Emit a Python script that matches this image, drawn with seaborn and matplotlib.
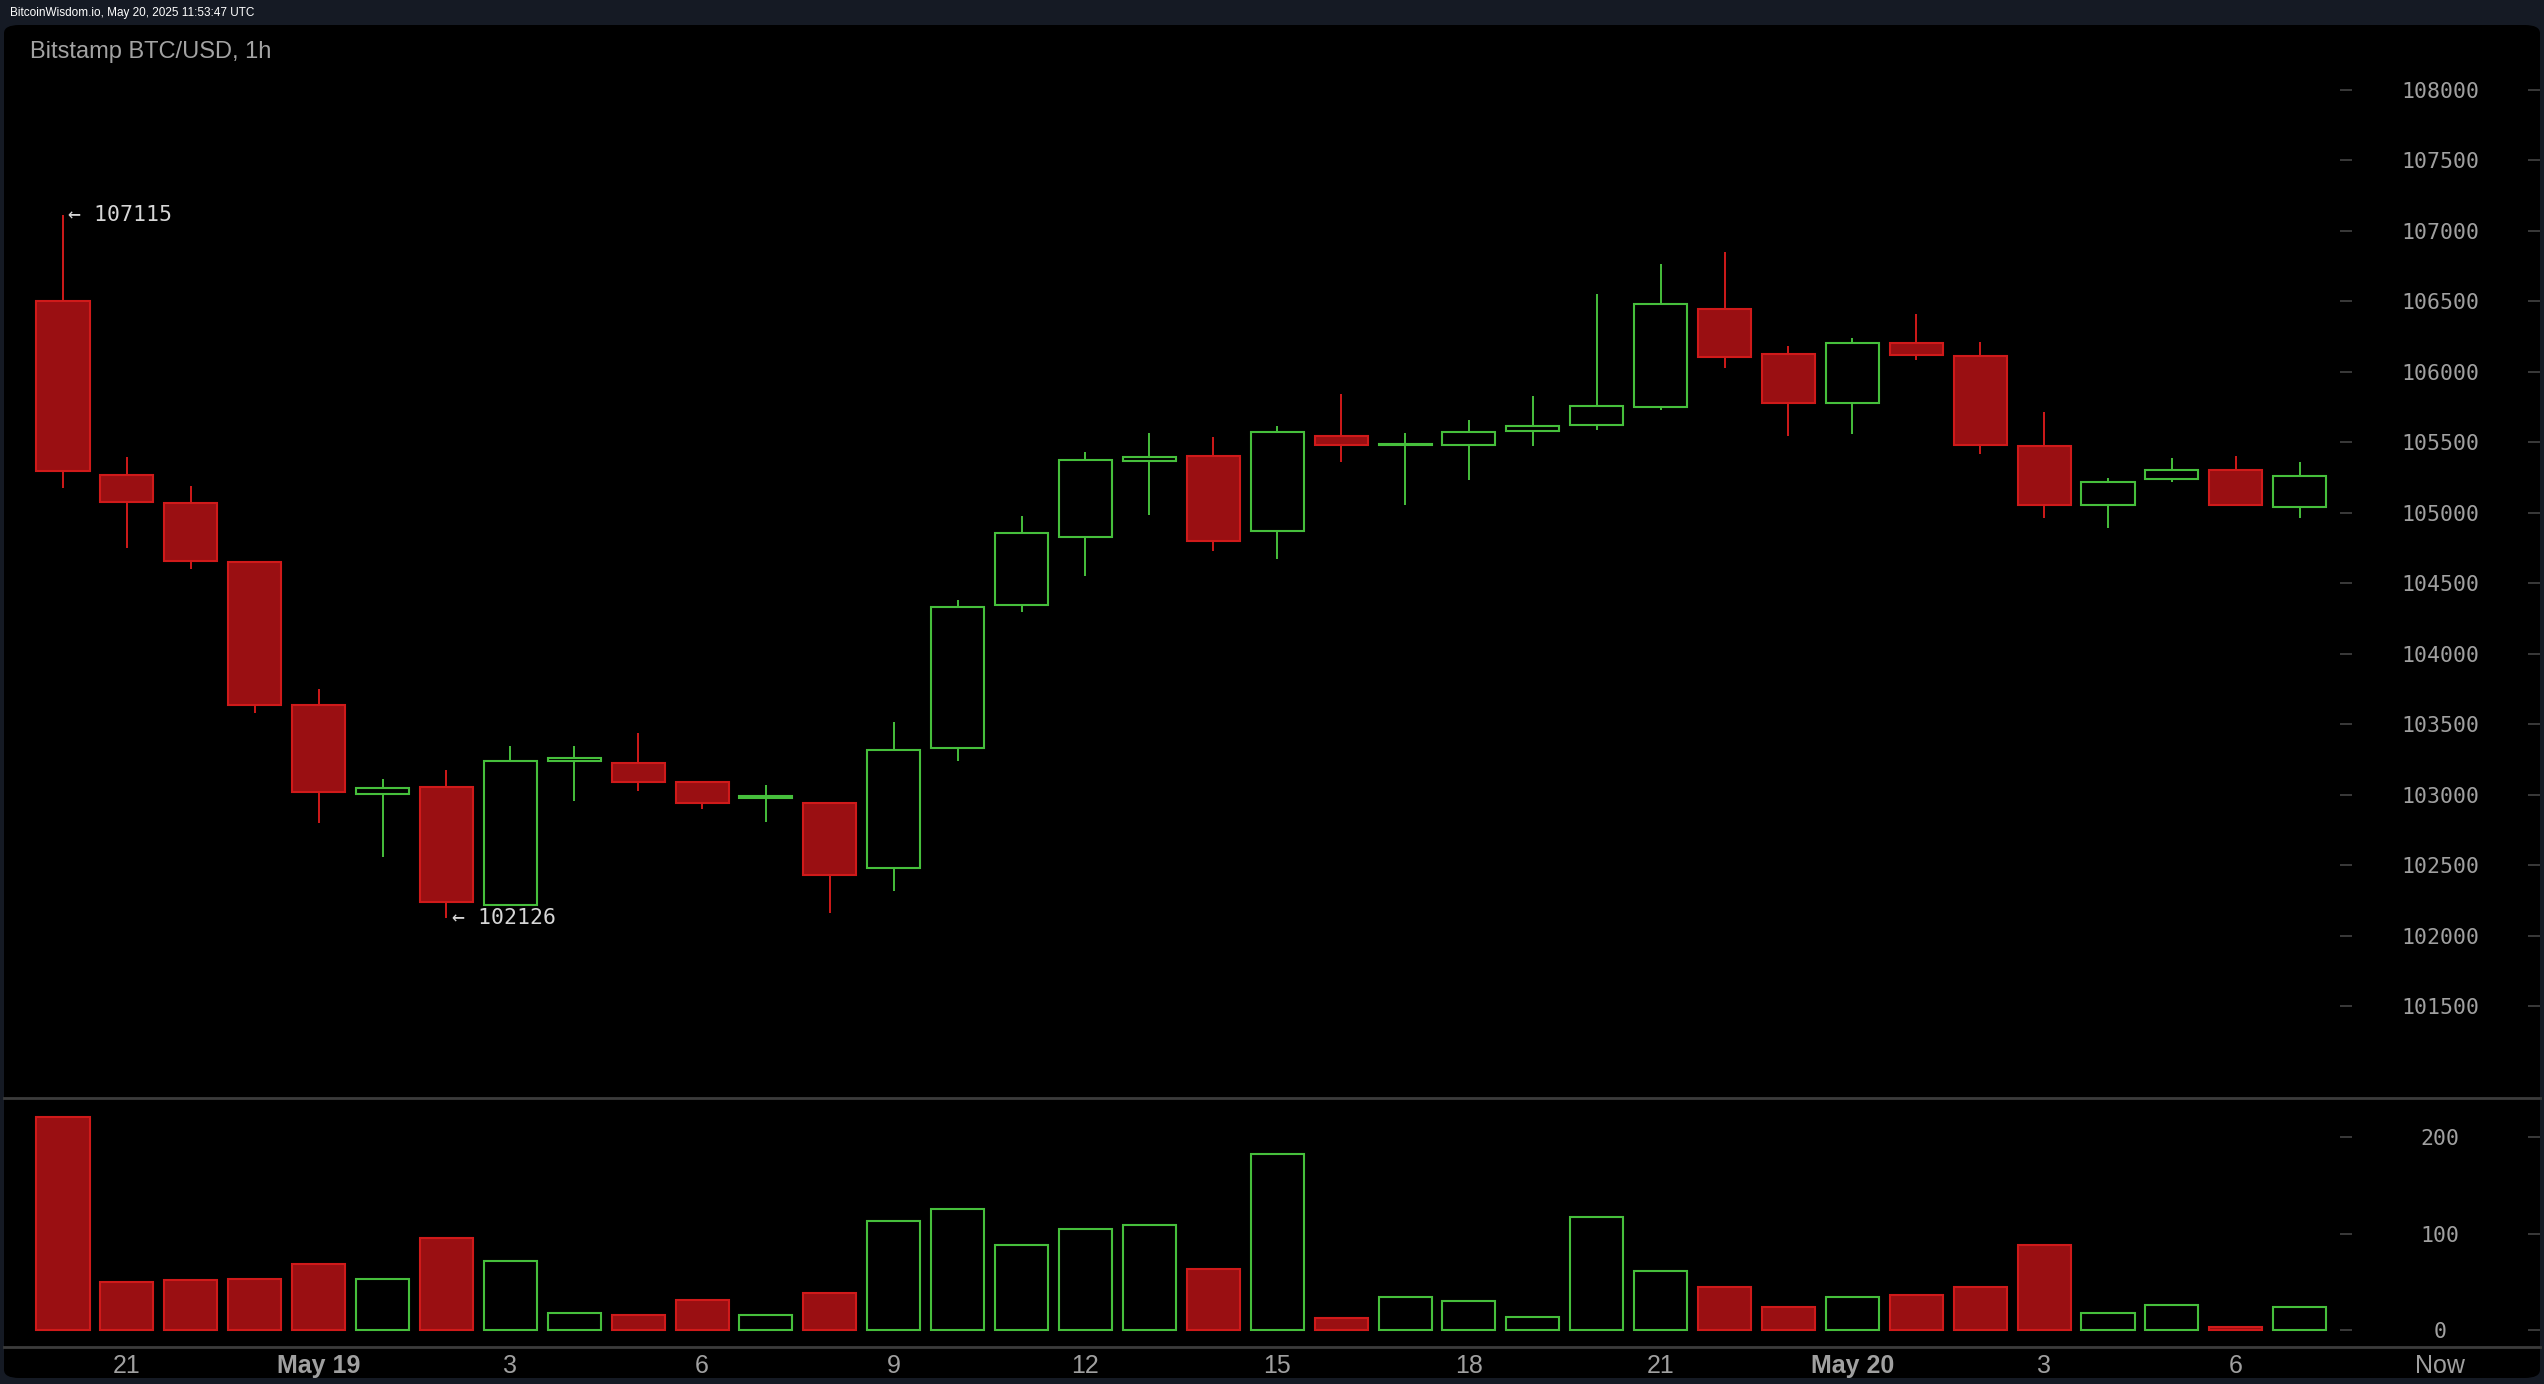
import numpy as np
import pandas as pd
import matplotlib
matplotlib.use("Agg")
import matplotlib.pyplot as plt
from matplotlib.patches import FancyBboxPatch
import seaborn as sns

# ================= DATA =================
# Bitstamp BTC/USD hourly candles, May 18 20:00 -> May 20 07:00
opens = [106500, 105270, 105070, 104650, 103640, 103005, 103060, 102220, 103240, 103230,
         103090, 102980, 102940, 102480, 103330, 104350, 104832, 105370, 105406, 104874,
         105546, 105484, 105482, 105581, 105624, 105753, 106450, 106125, 105782, 106209,
         106113, 105472, 105059, 105241, 105302, 105044]
highs = [107115, 105400, 105190, 104650, 103750, 103110, 103180, 103350, 103350, 103440,
         103090, 103070, 102950, 103520, 104385, 104982, 105435, 105564, 105536, 105620,
         105843, 105564, 105661, 105831, 106554, 106767, 106852, 106185, 106243, 106412,
         106214, 105717, 105250, 105392, 105406, 105364]
lows = [105175, 104754, 104600, 103580, 102800, 102560, 102126, 102210, 102955, 103030,
        102900, 102810, 102160, 102316, 103242, 104300, 104551, 104983, 104728, 104673,
        105364, 105054, 105236, 105477, 105590, 105732, 106030, 105548, 105562, 106086,
        105420, 104966, 104896, 105222, 105056, 104966]
closes = [105300, 105075, 104660, 103640, 103020, 103050, 102240, 103240, 103260, 103090,
          102940, 102995, 102430, 103320, 104330, 104855, 105378, 105400, 104800, 105571,
          105484, 105490, 105574, 105614, 105756, 106479, 106108, 105780, 106209, 106120,
          105482, 105056, 105217, 105302, 105056, 105260]
volumes = [221, 50, 52, 53, 68, 53, 95, 72, 18, 16, 31, 16, 38, 113, 125, 88, 105, 109,
           63, 182, 12, 34, 30, 14, 117, 61, 45, 24, 34, 36.5, 45, 88, 18, 26, 3.4, 24]

tick_idx = [1, 4, 7, 10, 13, 16, 19, 22, 25, 28, 31, 34]
tick_labels = ['21', 'May 19', '3', '6', '9', '12', '15', '18', '21', 'May 20', '3', '6']
price_ticks = [101500, 102000, 102500, 103000, 103500, 104000, 104500, 105000,
               105500, 106000, 106500, 107000, 107500, 108000]
vol_ticks = [0, 100, 200]

# ================= STYLE =================
W, H = 2544, 1384
BG = '#151a24'
RED_FILL = '#9a0f12'
RED_EDGE = '#d01a1a'
GREEN = '#46bf3c'
GRID = '#3c3c3c'
LABEL = '#a0a0a0'
NOW_POS = 37.2

sns.set_theme(style='dark')
plt.rcParams['font.family'] = ['Liberation Sans', 'DejaVu Sans']

fig = plt.figure(figsize=(W / 100, H / 100), dpi=100, facecolor=BG)
panel = FancyBboxPatch((4 / W, 1 - 1378 / H), 2536 / W, 1353 / H,
                       boxstyle='round,pad=0,rounding_size=0.006',
                       transform=fig.transFigure, facecolor='black',
                       edgecolor='none', zorder=0)
fig.add_artist(panel)

axp = fig.add_axes([4 / W, 1 - 1098 / H, 2536 / W, (1098 - 25) / H])
axv = fig.add_axes([4 / W, 1 - 1347 / H, 2536 / W, (1347 - 1098) / H], sharex=axp)
for ax in (axp, axv):
    ax.set_facecolor('none')
    ax.grid(False)
    for s in ('top', 'left', 'right'):
        ax.spines[s].set_visible(False)
    ax.spines['bottom'].set_color(GRID)
    ax.spines['bottom'].set_linewidth(2)

# ================= CANDLES =================
o = np.array(opens, dtype=float)
c = np.array(closes, dtype=float)
hi = np.array(highs, dtype=float)
lo = np.array(lows, dtype=float)
idx = np.arange(len(o))
up = c >= o
body_lo = np.minimum(o, c)
body_h = np.abs(c - o)

axp.vlines(idx[up], lo[up], hi[up], color=GREEN, lw=1.4, zorder=1)
axp.vlines(idx[~up], lo[~up], hi[~up], color=RED_EDGE, lw=1.4, zorder=1)
axp.bar(idx[up], body_h[up], bottom=body_lo[up], width=0.83, facecolor='black',
        edgecolor=GREEN, linewidth=1.5, zorder=2)
axp.bar(idx[~up], body_h[~up], bottom=body_lo[~up], width=0.83, facecolor=RED_FILL,
        edgecolor=RED_EDGE, linewidth=1.5, zorder=2)

# high / low markers
i_max = int(np.argmax(hi))
i_min = int(np.argmin(lo))
axp.text(i_max + 0.08, hi[i_max], f"\u2190 {hi[i_max]:.0f}", va='center', ha='left',
         fontsize=15.5, family='DejaVu Sans Mono', color='#d6d6d6')
axp.text(i_min + 0.08, lo[i_min], f"\u2190 {lo[i_min]:.0f}", va='center', ha='left',
         fontsize=15.5, family='DejaVu Sans Mono', color='#d6d6d6')

# ================= VOLUME =================
vol_df = pd.DataFrame({'idx': idx, 'volume': volumes, 'up': up})
sns.barplot(data=vol_df[~vol_df['up']], x='idx', y='volume', native_scale=True,
            width=0.83, color=RED_FILL, saturation=1, edgecolor=RED_EDGE,
            linewidth=1.5, errorbar=None, ax=axv)
sns.barplot(data=vol_df[vol_df['up']], x='idx', y='volume', native_scale=True,
            width=0.83, color=GREEN, saturation=1, fill=False,
            linewidth=1.5, errorbar=None, ax=axv)
axv.set_xlabel('')
axv.set_ylabel('')

# ================= AXES =================
axp.set_xlim(-0.923, 38.76)
axp.set_ylim(100851, 108461)
axv.set_ylim(-17.6, 240.4)

for ax, ticks in ((axp, price_ticks), (axv, vol_ticks)):
    ax.yaxis.tick_right()
    ax.set_yticks(ticks)
    ax.set_yticklabels([str(t) for t in ticks])
    ax.tick_params(axis='y', direction='in', length=8.6, width=1.2, color='#444444',
                   pad=-72, labelsize=15.5, labelcolor=LABEL)
    for lab in ax.get_yticklabels():
        lab.set_ha('center')
        lab.set_family('DejaVu Sans Mono')
    ax.hlines(ticks, 0.9211, 0.9259, transform=ax.get_yaxis_transform(),
              color='#444444', lw=1.2)

axp.tick_params(axis='x', bottom=False, labelbottom=False)
axv.set_xticks(tick_idx + [NOW_POS])
axv.set_xticklabels(tick_labels + ['Now'])
axv.tick_params(axis='x', direction='out', length=5.8, width=1, color='#555555',
                pad=-1, labelsize=18, labelcolor=LABEL)
for lab in axv.get_xticklabels():
    if lab.get_text().startswith('May'):
        lab.set_fontweight('bold')
axv.xaxis.get_major_ticks()[-1].tick1line.set_visible(False)

# ================= TEXT =================
fig.text(10 / W, 1 - 13 / H, "BitcoinWisdom.io, May 20, 2025 11:53:47 UTC",
         va='center', ha='left', fontsize=8.5, color='white')
fig.text(30 / W, 1 - 52 / H, "Bitstamp BTC/USD, 1h", va='center', ha='left',
         fontsize=17, color='#a3a3a3')

fig.savefig('out.png', dpi=100, facecolor=BG)
